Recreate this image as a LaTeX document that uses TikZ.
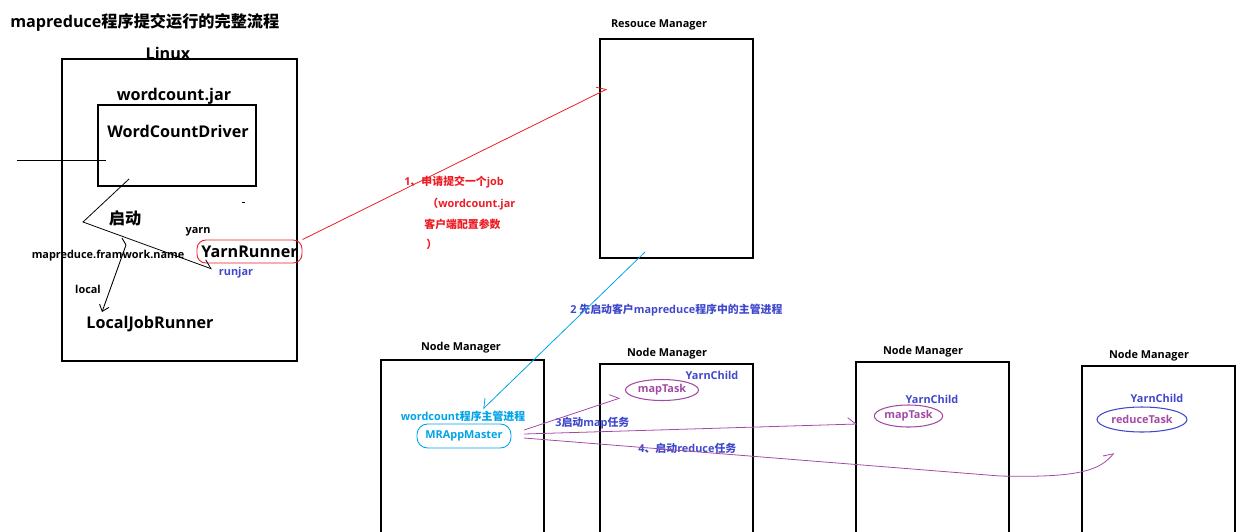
\documentclass[tikz,border=0pt]{standalone}
\usepackage{fontspec}
\setmainfont{Open Sans}
\newfontfamily\zh{Noto Sans CJK SC}
\usepackage{tikz}
\usetikzlibrary{positioning}
\usetikzlibrary{arrows.meta}
\usetikzlibrary{shapes.geometric}
\definecolor{pRed}{HTML}{ED1C24}
\definecolor{pBlue}{HTML}{3F48CC}
\definecolor{pPurple}{HTML}{A349A4}
\definecolor{pCyan}{HTML}{00A2E8}
\tikzset{mybox/.style={draw, line width=0.7pt, inner sep=0pt}}
\tikzset{myTxtBig/.style={font=\fontsize{9.2}{10}\selectfont\bfseries, inner sep=0pt}}
\tikzset{myTxtSml/.style={font=\fontsize{6.2}{7}\selectfont\bfseries, inner sep=0pt}}
\tikzset{myEll/.style={ellipse, draw, inner sep=0pt, line width=0.6pt}}
\tikzset{myArrHalf/.style={line width=0.45pt, -{Straight Barb[harpoon, length=1.6mm, width=2.6mm]}}}
\tikzset{myArrHalfSw/.style={line width=0.45pt, -{Straight Barb[harpoon, swap, length=1.6mm, width=2.6mm]}}}
\tikzset{myArrFull/.style={line width=0.5pt, -{Straight Barb[length=1.2mm, width=2mm]}}}

\begin{document}
\begin{tikzpicture}[x=0.02cm, y=-0.02cm]
\useasboundingbox (0,0) rectangle (1250,531);

\node[myTxtBig, anchor=west] (title) at (10,22) {mapreduce{\zh 程序提交运行的完整流程}};

\node[mybox, minimum width=4.7cm, minimum height=6.04cm] (linux) at (179.5,210) {};
\node[myTxtBig] (linuxLbl) at (168,53) {Linux};
\node[mybox, minimum width=3.16cm, minimum height=1.62cm] (jar) at (177,145.5) {};
\node[myTxtBig] (jarLbl) at (174,96) {wordcount.jar};
\node[myTxtBig] (driver) at (178,131) {WordCountDriver};

\node[myTxtBig] (qidong) at (125,218) {{\zh 启动}};
\node[myTxtSml] (yarn) at (198,232) {yarn};
\node[myTxtSml] (fwName) at (108,256) {mapreduce.framwork.name};
\node[myTxtSml] (local) at (88,289) {local};
\node[myTxtBig] (ljr) at (150,324) {LocalJobRunner};
\node[myTxtBig, draw=pRed, line width=0.5pt, rounded corners=5pt, minimum width=2.1cm, minimum height=0.46cm] (yr) at (249.5,251.5) {YarnRunner};
\node[myTxtSml, text=pBlue] (runjar) at (236,273) {runjar};

\node[mybox, minimum width=3.06cm, minimum height=4.38cm] (rm) at (676.5,148.5) {};
\node[myTxtSml] (rmLbl) at (659,25) {Resouce Manager};

\node[myTxtSml, text=pRed, anchor=west] (step1a) at (404,182) {1{\zh 、申请提交一个}job};
\node[myTxtSml, text=pRed, anchor=west] (step1b) at (427,204) {{\zh （}wordcount.jar};
\node[myTxtSml, text=pRed, anchor=west] (step1c) at (424,224) {{\zh 客户端配置参数}};
\node[myTxtSml, text=pRed, anchor=west] (step1d) at (426,244) {{\zh ）}};
\node[myTxtSml, text=pBlue, anchor=west] (step2) at (570,310) {2 {\zh 先启动客户}mapreduce{\zh 程序中的主管进程}};

\node[mybox, minimum width=3.26cm, minimum height=3.6cm] (nm1) at (462.5,450) {};
\node[mybox, minimum width=3.06cm, minimum height=3.52cm] (nm2) at (676.5,452) {};
\node[mybox, minimum width=3.06cm, minimum height=3.56cm] (nm3) at (932.5,451) {};
\node[mybox, minimum width=3.06cm, minimum height=3.48cm] (nm4) at (1158.5,453) {};
\node[myTxtSml] (nm1Lbl) at (461,348) {Node Manager};
\node[myTxtSml] (nm2Lbl) at (667,354) {Node Manager};
\node[myTxtSml] (nm3Lbl) at (923,352) {Node Manager};
\node[myTxtSml] (nm4Lbl) at (1149,356) {Node Manager};

\node[myTxtSml, text=pCyan] (mrLbl) at (463,416) {wordcount{\zh 程序主管进程}};
\node[myTxtSml, text=pCyan, draw=pCyan, line width=0.5pt, rounded corners=6pt, minimum width=1.88cm, minimum height=0.48cm] (mr) at (464,436) {MRAppMaster};

\node[myTxtSml, text=pBlue] (yc2) at (712,375) {YarnChild};
\node[myEll, draw=pPurple, text=pPurple, minimum width=1.46cm, minimum height=0.42cm] (mt2) at (662,390) {\fontsize{6.2}{7}\selectfont\bfseries mapTask};
\node[myTxtSml, text=pBlue] (yc3) at (932,399) {YarnChild};
\node[myEll, draw=pPurple, text=pPurple, minimum width=1.34cm, minimum height=0.44cm] (mt3) at (908.5,416) {\fontsize{6.2}{7}\selectfont\bfseries mapTask};
\node[myTxtSml, text=pBlue] (yc4) at (1157,398) {YarnChild};
\node[myEll, draw=pBlue, text=pPurple, minimum width=1.8cm, minimum height=0.5cm] (rt4) at (1142,419.5) {\fontsize{6.2}{7}\selectfont\bfseries reduceTask};

\node[myTxtSml, text=pBlue, anchor=west] (step3) at (555,423) {3{\zh 启动}map{\zh 任务}};
\node[myTxtSml, text=pBlue, anchor=west] (step4) at (638,448) {4{\zh 、启动}reduce{\zh 任务}};

\coordinate (h1) at (17,160);
\coordinate (h2) at (106,160);
\coordinate (s1) at (129,179);
\coordinate (s2) at (83,222);
\coordinate (s3) at (212,269);
\coordinate (l1) at (122,238);
\coordinate (l2) at (126,245);
\coordinate (l3) at (102,312);
\coordinate (d1) at (242,202);
\coordinate (d2) at (245,202);
\coordinate (rmIn) at (607,89);
\coordinate (rmOut) at (645,252);
\coordinate (mrIn) at (483,409);
\coordinate (mr1) at (524,430);
\coordinate (mr2) at (524,434);
\coordinate (mr3) at (524,438);
\coordinate (mt2In) at (620,398);
\coordinate (nm3In) at (857,424);
\coordinate (rt4In) at (1114,453);

\draw[line width=0.5pt] (h1) -- (h2);
\draw[myArrHalf] (s1) -- (s2) -- (s3);
\draw[myArrFull] (l1) -- (l2) -- (l3);
\draw[line width=0.5pt] (d1) -- (d2);
\draw[myArrHalf, pRed] (yr.north east) -- (rmIn);
\draw[myArrHalfSw, pCyan] (rmOut) -- (mrIn);
\draw[myArrHalf, pPurple] (mr1) -- (mt2In);
\draw[myArrHalf, pPurple] (mr2) -- (nm3In);
\draw[myArrHalf, pPurple] (mr3) -- (1000,476) .. controls (1080,478) and (1100,470) .. (rt4In);

\end{tikzpicture}
\end{document}
